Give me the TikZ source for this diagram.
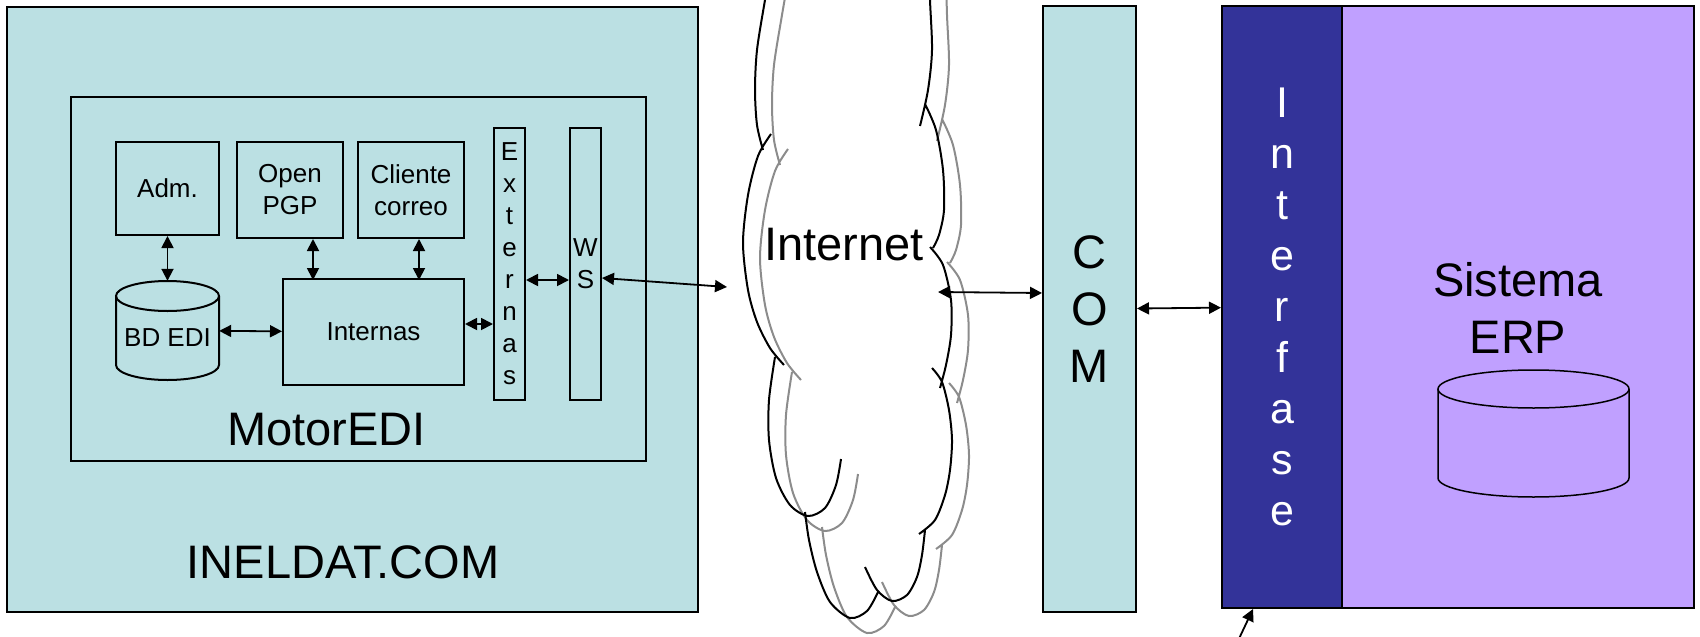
\documentclass[tikz,border=0pt]{standalone}
\usepackage{fontspec}
\setmainfont{Liberation Sans}
\usetikzlibrary{calc, arrows.meta}
\definecolor{celeste}{RGB}{187,224,227}
\definecolor{azul}{RGB}{51,51,153}
\definecolor{lila}{RGB}{192,160,255}
\definecolor{sombra}{RGB}{140,140,140}
\tikzset{>={Triangle[length=12pt,width=12pt]}}
\tikzset{
  caja/.style={draw, line width=2pt, inner sep=0pt, align=center},
  chico/.style={font=\fontsize{26}{32}\selectfont},
  grande/.style={font=\fontsize{47}{57}\selectfont},
  enlace/.style={<->, line width=1.8pt},
}

\begin{document}
\begin{tikzpicture}[x=1pt, y=-1pt]
\useasboundingbox (0,0) rectangle (1700,637);
\node[caja, line width=2.5pt, fill=celeste, minimum width=691pt, minimum height=605pt] (ineldat) at (352.5,309.5) {};
\node[grande, anchor=base] (ineldatlbl) at (343,578) {INELDAT.COM};
\node[caja, minimum width=575pt, minimum height=364pt] (motor) at (358.5,279) {};
\node[grande, anchor=base] (motorlbl) at (326.5,445) {MotorEDI};
\node[caja, chico, minimum width=103pt, minimum height=93pt] (adm) at (167.5,188.5) {Adm.};
\node[caja, chico, minimum width=106pt, minimum height=96pt] (pgp) at (290,190) {Open\\PGP};
\node[caja, chico, minimum width=106pt, minimum height=96pt] (correo) at (411,190) {Cliente\\correo};
\node[caja, chico, minimum width=181pt, minimum height=106pt] (internas) at (373.5,332) {Internas};
\node[caja, chico, minimum width=31pt, minimum height=272pt] (externas) at (509.5,264) {E\\x\\t\\e\\r\\n\\a\\s};
\node[caja, chico, minimum width=31pt, minimum height=272pt] (ws) at (585.5,264) {W\\S};
\node[inner sep=0pt, minimum width=103pt, minimum height=99pt] (bdedi) at (167.5,330.5) {};
\draw[line width=2pt] (116,296) -- (116,365) arc[start angle=180, end angle=0, x radius=51.5, y radius=15] -- (219,296);
\draw[line width=2pt] (167.5,296) ellipse [x radius=51.5, y radius=15];
\node[chico] (bdeditxt) at (167.5,337.5) {BD EDI};

\foreach \dx/\dy/\col in {17/15/sombra, 0/0/black}
{
\begin{scope}[shift={(\dx,\dy)}, draw=\col, line width=2pt]
\draw plot[smooth] coordinates {(772,-40) (765,0) (757,50) (755,90) (757,125) (763,150)}
  plot[smooth] coordinates {(771,134) (758,156) (748,195) (743,243) (748,290) (757,322) (770,348) (784,365)}
  plot[smooth] coordinates {(775,357) (769,400) (769,440) (776,478) (790,505) (808,516) (825,508) (836,485) (841,459)}
  plot[smooth] coordinates {(805,512) (809,540) (817,572) (830,602) (850,618) (867,611) (878,592)}
  plot[smooth] coordinates {(865,567) (877,590) (892,601) (907,595) (917,577) (922,555) (925,530)}
  plot[smooth] coordinates {(932,368) (942,382) (949,410) (952,440) (950,470) (945,495) (935,520) (919,534)}
  plot[smooth] coordinates {(930,247) (943,265) (951,300) (951,335) (946,365) (940,388)}
  plot[smooth] coordinates {(925,104) (936,130) (943,170) (944,210) (939,235) (933,248)}
  plot[smooth] coordinates {(929,-40) (930,0) (932,50) (928,90) (920,126)};
\end{scope}
}
\node[grande, anchor=base] (internet) at (844,260) {Internet};
\coordinate (netw) at (727,287);
\coordinate (nete) at (938,292);

\node[caja, grande, fill=celeste, minimum width=93pt, minimum height=606pt] (com) at (1089.5,309) {C\\O\\M};
\node[caja, fill=lila, minimum width=352pt, minimum height=602pt] (erp) at (1518,307) {};
\node[caja, fill=azul, text=white, font=\fontsize{43}{51}\selectfont, minimum width=120pt, minimum height=602pt] (interfase) at (1282,307) {I\\n\\t\\e\\r\\f\\a\\s\\e};
\node[grande, align=center] (erptxt) at (1518,308) {Sistema\\ERP};
\draw[line width=1.5pt] (1438,389) -- (1438,478) arc[start angle=180, end angle=0, x radius=95.5, y radius=19] -- (1629,389);
\draw[line width=1.5pt] (1533.5,389) ellipse [x radius=95.5, y radius=19];
\coordinate (abajo) at (1236,645);

\path[enlace]
(adm) edge (bdedi)
($(pgp.south)+(23,0)$) edge ($(pgp.south)+(23,41)$)
($(correo.south)+(8,0)$) edge ($(correo.south)+(8,41)$)
(bdedi) edge (internas)
($(internas.east)+(0,-8)$) edge ($(externas.west)+(0,60)$)
($(externas.east)+(0,16)$) edge ($(ws.west)+(0,16)$)
($(ws.east)+(0,14)$) edge (netw)
(nete) edge ($(com.west)+(0,-16)$)
(com) edge (interfase)
;
\draw[->, line width=1.8pt] (abajo) -- ($(interfase.south west)+(32,0)$);
\end{tikzpicture}
\end{document}
